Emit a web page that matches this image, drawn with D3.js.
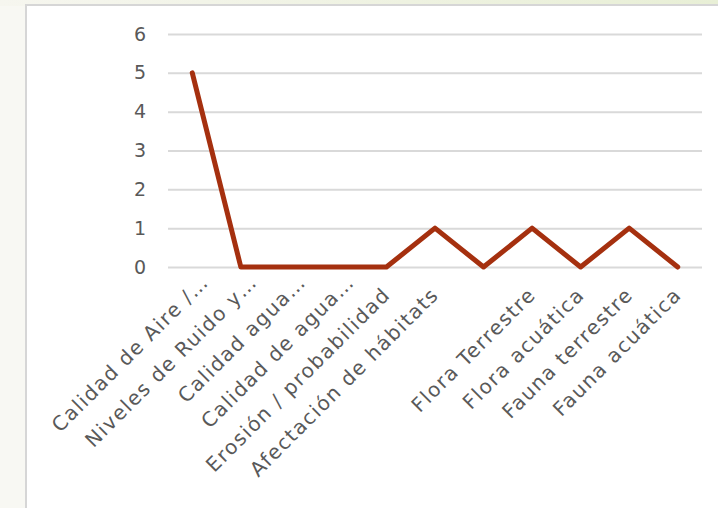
<!DOCTYPE html>
<html lang="es">
<head>
    <meta charset="UTF-8">
    <title>Chart</title>
    <script src="https://cdnjs.cloudflare.com/ajax/libs/d3/7.8.5/d3.min.js"></script>
    <style>
        html, body { margin: 0; padding: 0; background: #f8f8f3; }
        svg { display: block; }
        text { font-family: "DejaVu Sans", sans-serif; fill: #595959; }
    </style>
</head>
<body>
<svg id="chart" width="718" height="508"></svg>

<script>
    var categories = ['Calidad de Aire /…', 'Niveles de Ruido y…', 'Calidad agua…', 'Calidad de agua…',
        'Erosión / probabilidad', 'Afectación de hábitats', '', 'Flora Terrestre', 'Flora acuática',
        'Fauna terrestre', 'Fauna acuática'];
    var values = [5, 0, 0, 0, 0, 1, 0, 1, 0, 1, 0];
    var yTicks = [0, 1, 2, 3, 4, 5, 6];

    var W = 718, H = 508;
    var plot = {left: 168, right: 702, top: 34, bottom: 267};

    var svg = d3.select('#chart');

    // background strip + white panel
    var defs = svg.append('defs');
    var grad = defs.append('linearGradient').attr('id', 'topgrad');
    grad.append('stop').attr('offset', '0%').attr('stop-color', '#f6f6ef');
    grad.append('stop').attr('offset', '100%').attr('stop-color', '#e8efd6');
    svg.append('rect').attr('x', 0).attr('y', 0).attr('width', W).attr('height', 6).attr('fill', 'url(#topgrad)');

    svg.append('rect')
        .attr('x', 26).attr('y', 5)
        .attr('width', W - 26).attr('height', H - 5)
        .attr('fill', '#fff');
    svg.append('path')
        .attr('d', 'M26,' + H + 'V5H' + W)
        .attr('fill', 'none')
        .attr('stroke', '#d6d6d6')
        .attr('stroke-width', 2);

    var x = d3.scalePoint()
        .domain(d3.range(categories.length))
        .range([plot.left, plot.right])
        .padding(0.5);

    var y = d3.scaleLinear()
        .domain([0, 6])
        .range([plot.bottom, plot.top]);

    // y axis with gridlines
    var yAxis = svg.append('g')
        .attr('transform', 'translate(' + plot.left + ',0)')
        .call(d3.axisLeft(y).tickValues(yTicks).tickSize(-(plot.right - plot.left)).tickPadding(22).tickFormat(d3.format('d')));
    yAxis.select('.domain').remove();
    yAxis.selectAll('line').attr('stroke', '#d9d9d9').attr('stroke-width', 2);
    yAxis.selectAll('text')
        .attr('font-size', '19px')
        .attr('fill', '#595959')
        .style('font-family', '"DejaVu Sans", sans-serif');

    // x labels, rotated
    svg.append('g').selectAll('text')
        .data(categories)
        .enter()
        .append('text')
        .attr('text-anchor', 'end')
        .attr('font-size', '20px')
        .attr('letter-spacing', '1.5px')
        .attr('dx', function (d) { return /…$/.test(d) ? 18 : 0; })
        .attr('transform', function (d, i) {
            return 'translate(' + (x(i) + 5) + ',' + (plot.bottom + 29) + ') rotate(-45)';
        })
        .text(function (d) { return d; });

    // the line
    var line = d3.line()
        .x(function (d, i) { return x(i); })
        .y(function (d) { return y(d); });

    svg.append('path')
        .datum(values)
        .attr('d', line)
        .attr('fill', 'none')
        .attr('stroke', '#a5300f')
        .attr('stroke-width', 5)
        .attr('stroke-linejoin', 'round')
        .attr('stroke-linecap', 'round');
</script>
</body>
</html>
